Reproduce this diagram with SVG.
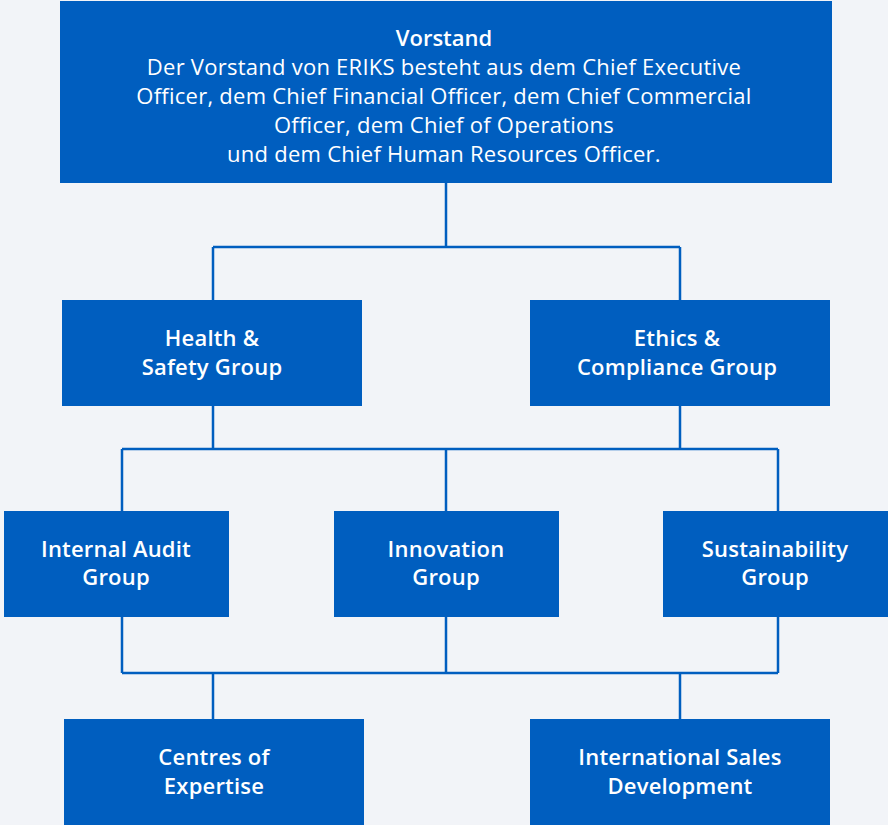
<svg xmlns="http://www.w3.org/2000/svg" width="888" height="825" viewBox="0 0 888 825">
<style>
.bg{fill:#F2F4F8}
.box{fill:#005EBF}
.t{font-family:"Open Sans","Liberation Sans",sans-serif;font-size:22px;fill:#fff;text-anchor:middle;letter-spacing:0.25px}
.n{font-weight:600;letter-spacing:0.2px}
.b{font-weight:600;letter-spacing:0}
.c{fill:none;stroke:#005EBF;stroke-width:2.5}
</style>
<rect class="bg" x="0" y="0" width="888" height="825"/>
<g id="connectors">
<path class="c" d="M446 183V247M213 247H680M213 247V300M680 247V300"/>
<path class="c" d="M213 406V449M680 406V449M122 449H778M122 449V511M446 449V511M778 449V511"/>
<path class="c" d="M122 617V673M446 617V673M778 617V673M122 673H778M213 673V719M680 673V719"/>
</g>
<g id="vorstand">
<rect class="box" x="60" y="1" width="772" height="182"/>
<text class="t b" x="444" y="46">Vorstand</text>
<text class="t" x="444" y="75">Der Vorstand von ERIKS besteht aus dem Chief Executive</text>
<text class="t" x="444" y="104">Officer, dem Chief Financial Officer, dem Chief Commercial</text>
<text class="t" x="444" y="133">Officer, dem Chief of Operations</text>
<text class="t" x="444" y="162">und dem Chief Human Resources Officer.</text>
</g>
<g id="health">
<rect class="box" x="62" y="300" width="300" height="106"/>
<text class="t n" x="212" y="346">Health &amp;</text>
<text class="t n" x="212" y="375">Safety Group</text>
</g>
<g id="ethics">
<rect class="box" x="530" y="300" width="300" height="106"/>
<text class="t n" x="677" y="346">Ethics &amp;</text>
<text class="t n" x="677" y="375">Compliance Group</text>
</g>
<g id="audit">
<rect class="box" x="4" y="511" width="225" height="106"/>
<text class="t n" x="116" y="557">Internal Audit</text>
<text class="t n" x="116" y="585">Group</text>
</g>
<g id="innovation">
<rect class="box" x="334" y="511" width="225" height="106"/>
<text class="t n" x="446" y="557">Innovation</text>
<text class="t n" x="446" y="585">Group</text>
</g>
<g id="sustainability">
<rect class="box" x="663" y="511" width="225" height="106"/>
<text class="t n" x="775" y="557">Sustainability</text>
<text class="t n" x="775" y="585">Group</text>
</g>
<g id="centres">
<rect class="box" x="64" y="719" width="300" height="106"/>
<text class="t n" x="214" y="765">Centres of</text>
<text class="t n" x="214" y="794">Expertise</text>
</g>
<g id="sales">
<rect class="box" x="530" y="719" width="300" height="106"/>
<text class="t n" x="680" y="765">International Sales</text>
<text class="t n" x="680" y="794">Development</text>
</g>
</svg>
